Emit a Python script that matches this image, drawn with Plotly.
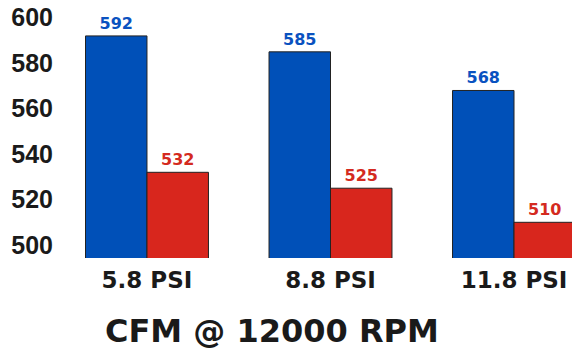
import plotly.graph_objects as go

categories = ["5.8 PSI", "8.8 PSI", "11.8 PSI"]
blue_values = [592, 585, 568]
red_values = [532, 525, 510]
y_ticks = [500, 520, 540, 560, 580, 600]
title_text = "CFM @ 12000 RPM"

fig = go.Figure()
fig.add_trace(go.Bar(
    x=categories, y=blue_values,
    marker=dict(color="#0050b8", line=dict(color="#222222", width=1)),
    text=[str(v) for v in blue_values], textposition="outside",
    textfont=dict(family="DejaVu Sans", size=16, color="#0a52c0", weight="bold"),
    cliponaxis=False,
))
fig.add_trace(go.Bar(
    x=categories, y=red_values,
    marker=dict(color="#d8261d", line=dict(color="#222222", width=1)),
    text=[str(v) for v in red_values], textposition="outside",
    textfont=dict(family="DejaVu Sans", size=16, color="#d42a20", weight="bold"),
    cliponaxis=False,
))

fig.update_layout(
    width=572, height=353,
    margin=dict(l=60, r=0, t=0, b=95),
    barmode="group", bargap=0.33, bargroupgap=0,
    showlegend=False,
    plot_bgcolor="white", paper_bgcolor="white",
    xaxis=dict(
        type="category", range=[-0.474, 2.316],
        showline=False, showgrid=False, zeroline=False,
        tickfont=dict(family="DejaVu Sans", size=23, color="#1a1a1a", weight="bold"),
        ticks="outside", ticklen=1, tickcolor="white",
    ),
    yaxis=dict(
        range=[494.3, 607.8], tickvals=y_ticks,
        showline=False, showgrid=False, zeroline=False,
        tickfont=dict(family="Liberation Sans", size=25, color="#1a1a1a", weight="bold"),
        ticks="outside", ticklen=1, tickcolor="white",
    ),
    annotations=[dict(
        text=title_text, xref="paper", yref="paper",
        x=(271.5 - 60) / 512, y=-0.366, xanchor="center", yanchor="bottom",
        showarrow=False,
        font=dict(family="DejaVu Sans", size=32, color="#1a1a1a", weight="bold"),
    )],
)

fig.write_html("out.html")
